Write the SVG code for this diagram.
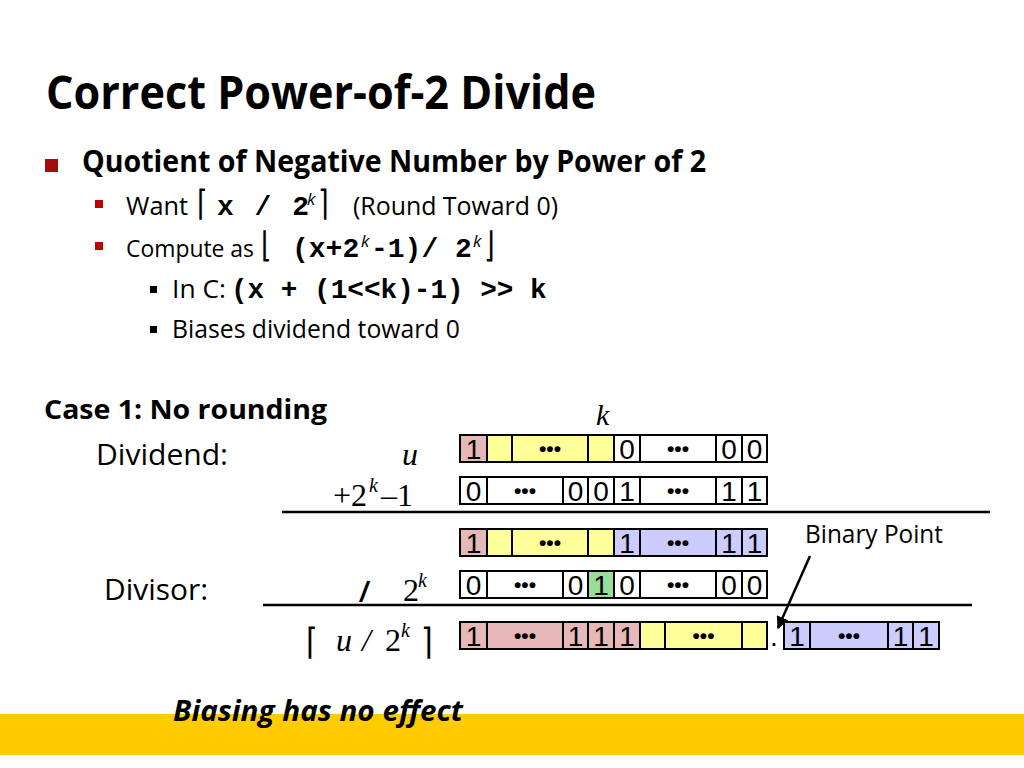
<svg xmlns="http://www.w3.org/2000/svg" width="1024" height="768" viewBox="0 0 1024 768">
<defs>
<style>
.t{font-family:"Open Sans","Noto Sans",sans-serif;fill:#000}
.b{font-weight:bold}
.m{font-family:"Liberation Mono","Courier New",monospace;font-weight:bold;fill:#000}
.s{font-family:"Liberation Serif","Times New Roman",serif;fill:#000}
.br{font-family:"DejaVu Sans",sans-serif;fill:#000}
.sup{font-family:"Open Sans",sans-serif;font-style:italic;font-size:17px}
.c{stroke:#000;stroke-width:2}
.w{fill:#fff}.p{fill:#E6B8B7}.y{fill:#FFFF99}.bl{fill:#CCCCFF}.g{fill:#99DD99}
.d{font-family:"Liberation Sans",Arial,sans-serif;font-size:28px;text-anchor:middle;fill:#000}
.dt{font-family:"Liberation Sans",Arial,sans-serif;font-size:21px;font-weight:bold;text-anchor:middle;fill:#000}
.ln{stroke:#000;stroke-width:2.5}
</style>
<marker id="ah" viewBox="0 0 10 10" refX="9" refY="5" markerWidth="5" markerHeight="5" orient="auto" markerUnits="strokeWidth">
<path d="M0,0 L10,5 L0,10 z" fill="#000"/>
</marker>
</defs>
<rect width="1024" height="768" fill="#fff"/>
<rect x="0" y="714" width="1024" height="41" fill="#FFCC00"/>

<g id="title">
<text class="t b" x="46" y="109" font-size="46" textLength="550" lengthAdjust="spacingAndGlyphs">Correct Power-of-2 Divide</text>
</g>

<g id="bullets">
<rect x="45" y="159" width="13" height="13" fill="#A50C0C"/>
<text class="t b" x="82" y="172" font-size="30" textLength="624" lengthAdjust="spacingAndGlyphs">Quotient of Negative Number by Power of 2</text>

<rect x="95" y="200" width="8" height="8" fill="#C00000"/>
<text class="t" x="126" y="215" font-size="25" textLength="62" lengthAdjust="spacingAndGlyphs">Want</text>
<text class="br" font-size="27" transform="translate(197,215) scale(1,1.3)">⌈</text>
<text class="m" font-size="28" x="217" y="215" word-spacing="4">x / 2</text>
<text class="sup" x="307" y="205">k</text>
<text class="br" font-size="27" transform="translate(318,215) scale(1,1.3)">⌉</text>
<text class="t" x="353" y="215" font-size="25" textLength="205" lengthAdjust="spacingAndGlyphs">(Round Toward 0)</text>

<rect x="95" y="242" width="8" height="8" fill="#C00000"/>
<text class="t" x="126" y="257" font-size="23" textLength="128" lengthAdjust="spacingAndGlyphs">Compute as</text>
<text class="br" font-size="27" transform="translate(261,257) scale(1,1.3)">⌊</text>
<text class="m" font-size="28" x="292" y="257">(x+2</text>
<text class="sup" x="361" y="247">k</text>
<text class="m" font-size="28" x="371" y="257">-1)/ 2</text>
<text class="sup" x="473" y="247">k</text>
<text class="br" font-size="27" transform="translate(484,257) scale(1,1.3)">⌋</text>

<rect x="150" y="286" width="7" height="7" fill="#000"/>
<text class="t" x="172" y="298" font-size="25" textLength="54" lengthAdjust="spacingAndGlyphs">In C:</text>
<text class="m" x="231" y="298" font-size="27.7">(x + (1&lt;&lt;k)-1) &gt;&gt; k</text>

<rect x="150" y="326" width="7" height="7" fill="#000"/>
<text class="t" x="172" y="338" font-size="25" textLength="288" lengthAdjust="spacingAndGlyphs">Biases dividend toward 0</text>
</g>

<g id="labels">
<text class="t b" x="44" y="419" font-size="26" textLength="283" lengthAdjust="spacingAndGlyphs">Case 1: No rounding</text>
<text class="t" x="96" y="465" font-size="30" textLength="132" lengthAdjust="spacingAndGlyphs">Dividend:</text>
<text class="t" x="104" y="600" font-size="30" textLength="104" lengthAdjust="spacingAndGlyphs">Divisor:</text>
<text class="t" x="805" y="543" font-size="25" textLength="138" lengthAdjust="spacingAndGlyphs">Binary Point</text>
<text class="t b" x="173" y="721" font-size="28" font-style="italic" textLength="290" lengthAdjust="spacingAndGlyphs">Biasing has no effect</text>
</g>

<g id="math">
<text class="s" x="596" y="425" font-size="30" font-style="italic">k</text>
<text class="s" x="402" y="465" font-size="32" font-style="italic">u</text>
<text class="s" x="333" y="506" font-size="32">+2</text>
<text class="s" x="369" y="492" font-size="20" font-style="italic">k</text>
<text class="s" x="381" y="506" font-size="32">–1</text>
<text x="360" y="601" font-size="28" font-family="Liberation Sans,Arial,sans-serif" font-weight="bold" font-style="italic">/</text>
<text class="s" x="403" y="601" font-size="32">2</text>
<text class="s" x="418" y="587" font-size="20" font-style="italic">k</text>
<text class="br" font-size="30" transform="translate(306,654) scale(1,1.2)">⌈</text>
<text class="s" x="336" y="651" font-size="32" font-style="italic">u</text>
<text class="s" x="362" y="651" font-size="32" font-style="italic">/</text>
<text class="s" x="385" y="651" font-size="32">2</text>
<text class="s" x="401" y="637" font-size="20" font-style="italic">k</text>
<text class="br" font-size="30" transform="translate(421,654) scale(1,1.2)">⌉</text>
</g>

<g id="row-u">
<rect class="c p" x="460" y="435" width="27" height="27"/>
<rect class="c y" x="487" y="435" width="25" height="27"/>
<rect class="c y" x="512" y="435" width="76" height="27"/>
<rect class="c y" x="588" y="435" width="26" height="27"/>
<rect class="c w" x="614" y="435" width="26" height="27"/>
<rect class="c w" x="640" y="435" width="76" height="27"/>
<rect class="c w" x="716" y="435" width="26" height="27"/>
<rect class="c w" x="742" y="435" width="25" height="27"/>
<text class="d" x="473.5" y="459">1</text>
<text class="dt" x="550" y="456">•••</text>
<text class="d" x="627" y="459">0</text>
<text class="dt" x="678" y="456">•••</text>
<text class="d" x="729" y="459">0</text>
<text class="d" x="754.5" y="459">0</text>
</g>

<g id="row-bias">
<rect class="c w" x="460" y="477" width="27" height="27"/>
<rect class="c w" x="487" y="477" width="76" height="27"/>
<rect class="c w" x="563" y="477" width="25" height="27"/>
<rect class="c w" x="588" y="477" width="26" height="27"/>
<rect class="c w" x="614" y="477" width="26" height="27"/>
<rect class="c w" x="640" y="477" width="76" height="27"/>
<rect class="c w" x="716" y="477" width="26" height="27"/>
<rect class="c w" x="742" y="477" width="25" height="27"/>
<text class="d" x="473.5" y="501">0</text>
<text class="dt" x="525" y="498">•••</text>
<text class="d" x="575.5" y="501">0</text>
<text class="d" x="601" y="501">0</text>
<text class="d" x="627" y="501">1</text>
<text class="dt" x="678" y="498">•••</text>
<text class="d" x="729" y="501">1</text>
<text class="d" x="754.5" y="501">1</text>
</g>

<g id="row-sum">
<rect class="c p" x="460" y="529" width="27" height="27"/>
<rect class="c y" x="487" y="529" width="25" height="27"/>
<rect class="c y" x="512" y="529" width="76" height="27"/>
<rect class="c y" x="588" y="529" width="26" height="27"/>
<rect class="c bl" x="614" y="529" width="26" height="27"/>
<rect class="c bl" x="640" y="529" width="76" height="27"/>
<rect class="c bl" x="716" y="529" width="26" height="27"/>
<rect class="c bl" x="742" y="529" width="25" height="27"/>
<text class="d" x="473.5" y="553">1</text>
<text class="dt" x="550" y="550">•••</text>
<text class="d" x="627" y="553">1</text>
<text class="dt" x="678" y="550">•••</text>
<text class="d" x="729" y="553">1</text>
<text class="d" x="754.5" y="553">1</text>
</g>

<g id="row-divisor">
<rect class="c w" x="460" y="571" width="27" height="27"/>
<rect class="c w" x="487" y="571" width="76" height="27"/>
<rect class="c w" x="563" y="571" width="25" height="27"/>
<rect class="c g" x="588" y="571" width="26" height="27"/>
<rect class="c w" x="614" y="571" width="26" height="27"/>
<rect class="c w" x="640" y="571" width="76" height="27"/>
<rect class="c w" x="716" y="571" width="26" height="27"/>
<rect class="c w" x="742" y="571" width="25" height="27"/>
<text class="d" x="473.5" y="595">0</text>
<text class="dt" x="525" y="592">•••</text>
<text class="d" x="575.5" y="595">0</text>
<text class="d" x="601" y="595">1</text>
<text class="d" x="627" y="595">0</text>
<text class="dt" x="678" y="592">•••</text>
<text class="d" x="729" y="595">0</text>
<text class="d" x="754.5" y="595">0</text>
</g>

<g id="row-result">
<rect class="c p" x="460" y="622" width="27" height="27"/>
<rect class="c p" x="487" y="622" width="76" height="27"/>
<rect class="c p" x="563" y="622" width="25" height="27"/>
<rect class="c p" x="588" y="622" width="26" height="27"/>
<rect class="c p" x="614" y="622" width="26" height="27"/>
<rect class="c y" x="640" y="622" width="25" height="27"/>
<rect class="c y" x="665" y="622" width="77" height="27"/>
<rect class="c y" x="742" y="622" width="25" height="27"/>
<rect class="c bl" x="784" y="622" width="26" height="27"/>
<rect class="c bl" x="810" y="622" width="78" height="27"/>
<rect class="c bl" x="888" y="622" width="25" height="27"/>
<rect class="c bl" x="913" y="622" width="26" height="27"/>
<text class="d" x="473.5" y="646">1</text>
<text class="dt" x="525" y="643">•••</text>
<text class="d" x="575.5" y="646">1</text>
<text class="d" x="601" y="646">1</text>
<text class="d" x="627" y="646">1</text>
<text class="dt" x="703.5" y="643">•••</text>
<text class="d" x="774" y="646">.</text>
<text class="d" x="797" y="646">1</text>
<text class="dt" x="849" y="643">•••</text>
<text class="d" x="900.5" y="646">1</text>
<text class="d" x="926" y="646">1</text>
</g>

<g id="connectors">
<line class="ln" x1="282" y1="512" x2="990" y2="512"/>
<line class="ln" x1="263" y1="605" x2="972" y2="605"/>
<line x1="810" y1="556" x2="778" y2="628" stroke="#000" stroke-width="2.5" marker-end="url(#ah)"/>
</g>
</svg>
